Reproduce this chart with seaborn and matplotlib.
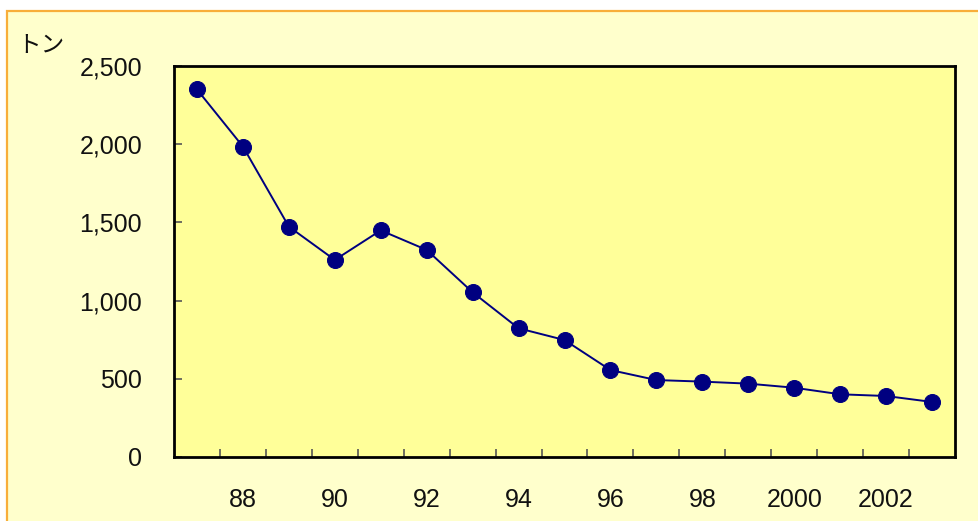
import matplotlib
matplotlib.use("Agg")
import matplotlib.pyplot as plt
import matplotlib.patches as mpatches
import seaborn as sns
import pandas as pd

# data (tons per year)
years = list(range(1987, 2004))
tons = [2350, 1985, 1473, 1260, 1449, 1324, 1053, 823, 748, 556,
        492, 482, 469, 443, 401, 390, 352]
label_years = [1988, 1990, 1992, 1994, 1996, 1998, 2000, 2002]
label_text = ['88', '90', '92', '94', '96', '98', '2000', '2002']
y_ticks = [0, 500, 1000, 1500, 2000, 2500]
y_labels = ['0', '500', '1,000', '1,500', '2,000', '2,500']

sns.set_style('white')
plt.rcParams['font.family'] = ['Liberation Sans', 'Noto Sans CJK JP', 'DejaVu Sans']

df = pd.DataFrame({'year': years, 'tons': tons})

fig = plt.figure(figsize=(9.79, 5.21), dpi=100)
fig.patch.set_facecolor('white')

# light yellow panel with orange border
bg = mpatches.Rectangle((7 / 979, -0.02), 1.0, (521 - 11) / 521 + 0.02,
                        transform=fig.transFigure, facecolor='#FFFFCC',
                        edgecolor='#F8AE3A', lw=1.6, zorder=-10)
fig.patches.append(bg)

ax = fig.add_axes([174 / 979, 64 / 521, (955 - 174) / 979, (457 - 66) / 521])
ax.set_zorder(1)
ax.set_facecolor('#FFFF99')

sns.lineplot(data=df, x='year', y='tons', ax=ax, color='#000080',
             marker='o', markersize=11.5, markeredgecolor='#000080',
             linewidth=1.4)

ax.set_xlim(1986.5, 2003.5)
ax.set_ylim(0, 2500)

ax.set_xticks(label_years)
ax.set_xticklabels(label_text)
ax.set_xticks([y + 0.5 for y in years[:-1]], minor=True)
ax.tick_params(axis='x', which='major', length=0, pad=22, labelsize=18,
               labelcolor='#111111')
ax.tick_params(axis='x', which='minor', direction='in', length=6,
               width=1.2, color='#555555', bottom=True)

ax.set_yticks(y_ticks)
ax.set_yticklabels(y_labels)
ax.tick_params(axis='y', direction='in', length=6, width=1.2,
               color='#555555', pad=23, labelsize=18, left=True,
               labelcolor='#111111')

for s in ax.spines.values():
    s.set_color('black')
    s.set_linewidth(2)

ax.set_xlabel('')
ax.set_ylabel('')

fig.text(17 / 979, 1 - 45 / 521, 'トン', fontsize=17, ha='left', va='center',
         family=['Noto Sans CJK JP', 'DejaVu Sans'], color='#111111', zorder=2)

fig.savefig('out.png', dpi=100)
